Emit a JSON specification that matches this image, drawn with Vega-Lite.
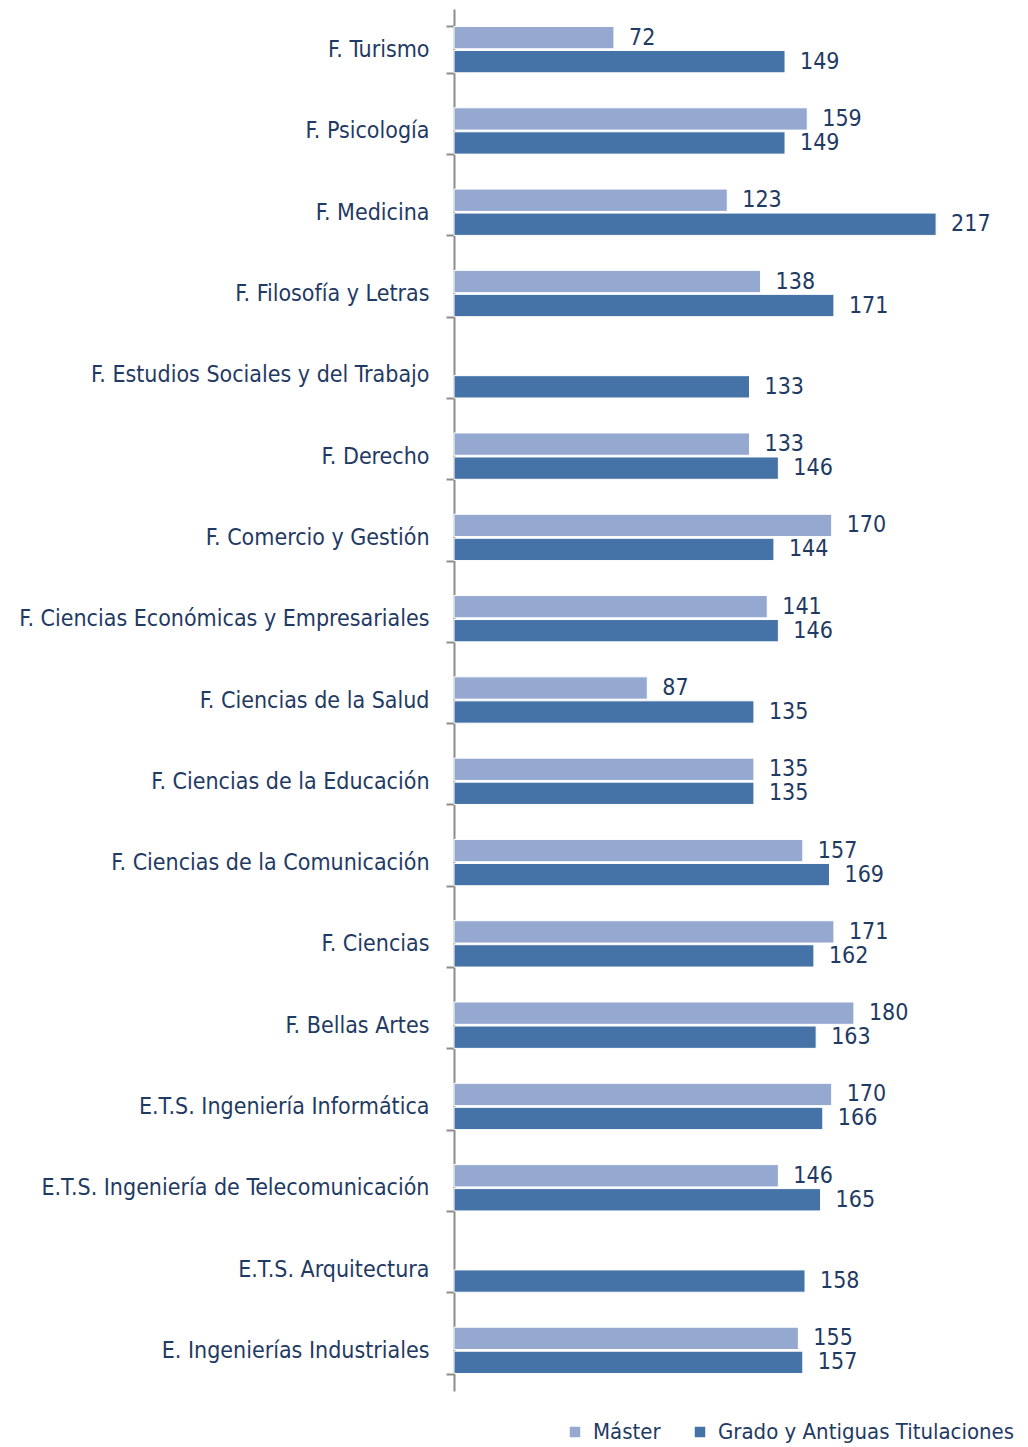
{
  "$schema": "https://vega.github.io/schema/vega-lite/v6.json",
  "autosize": "none",
  "width": 511,
  "height": 1382,
  "padding": {"left": 454, "top": 9, "right": 63, "bottom": 56},
  "background": "white",
  "config": {
    "view": {"stroke": null},
    "font": "DejaVu Sans Condensed"
  },
  "data": {
    "values": [
      {"centro": "F. Turismo", "serie": "Máster", "valor": 72},
      {"centro": "F. Turismo", "serie": "Grado y Antiguas Titulaciones", "valor": 149},
      {"centro": "F. Psicología", "serie": "Máster", "valor": 159},
      {"centro": "F. Psicología", "serie": "Grado y Antiguas Titulaciones", "valor": 149},
      {"centro": "F. Medicina", "serie": "Máster", "valor": 123},
      {"centro": "F. Medicina", "serie": "Grado y Antiguas Titulaciones", "valor": 217},
      {"centro": "F. Filosofía y Letras", "serie": "Máster", "valor": 138},
      {"centro": "F. Filosofía y Letras", "serie": "Grado y Antiguas Titulaciones", "valor": 171},
      {"centro": "F. Estudios Sociales y del Trabajo", "serie": "Grado y Antiguas Titulaciones", "valor": 133},
      {"centro": "F. Derecho", "serie": "Máster", "valor": 133},
      {"centro": "F. Derecho", "serie": "Grado y Antiguas Titulaciones", "valor": 146},
      {"centro": "F. Comercio y Gestión", "serie": "Máster", "valor": 170},
      {"centro": "F. Comercio y Gestión", "serie": "Grado y Antiguas Titulaciones", "valor": 144},
      {"centro": "F. Ciencias Económicas y Empresariales", "serie": "Máster", "valor": 141},
      {"centro": "F. Ciencias Económicas y Empresariales", "serie": "Grado y Antiguas Titulaciones", "valor": 146},
      {"centro": "F. Ciencias de la Salud", "serie": "Máster", "valor": 87},
      {"centro": "F. Ciencias de la Salud", "serie": "Grado y Antiguas Titulaciones", "valor": 135},
      {"centro": "F. Ciencias de la Educación", "serie": "Máster", "valor": 135},
      {"centro": "F. Ciencias de la Educación", "serie": "Grado y Antiguas Titulaciones", "valor": 135},
      {"centro": "F. Ciencias de la Comunicación", "serie": "Máster", "valor": 157},
      {"centro": "F. Ciencias de la Comunicación", "serie": "Grado y Antiguas Titulaciones", "valor": 169},
      {"centro": "F. Ciencias", "serie": "Máster", "valor": 171},
      {"centro": "F. Ciencias", "serie": "Grado y Antiguas Titulaciones", "valor": 162},
      {"centro": "F. Bellas Artes", "serie": "Máster", "valor": 180},
      {"centro": "F. Bellas Artes", "serie": "Grado y Antiguas Titulaciones", "valor": 163},
      {"centro": "E.T.S. Ingeniería Informática", "serie": "Máster", "valor": 170},
      {"centro": "E.T.S. Ingeniería Informática", "serie": "Grado y Antiguas Titulaciones", "valor": 166},
      {"centro": "E.T.S. Ingeniería de Telecomunicación", "serie": "Máster", "valor": 146},
      {"centro": "E.T.S. Ingeniería de Telecomunicación", "serie": "Grado y Antiguas Titulaciones", "valor": 165},
      {"centro": "E.T.S. Arquitectura", "serie": "Grado y Antiguas Titulaciones", "valor": 158},
      {"centro": "E. Ingenierías Industriales", "serie": "Máster", "valor": 155},
      {"centro": "E. Ingenierías Industriales", "serie": "Grado y Antiguas Titulaciones", "valor": 157}
    ]
  },
  "encoding": {
    "y": {
      "field": "centro",
      "type": "nominal",
      "sort": null,
      "title": null,
      "scale": {"paddingInner": 0.43, "paddingOuter": 0.215},
      "axis": {
        "domain": true,
        "domainColor": "#8c8c8c",
        "domainWidth": 2,
        "ticks": true,
        "tickBand": "extent",
        "tickColor": "#8c8c8c",
        "tickWidth": 2,
        "tickSize": 8,
        "labelPadding": 17,
        "labelFont": "DejaVu Sans Condensed",
        "labelFontSize": 23,
        "labelColor": "#1f3a63",
        "labelLimit": 600,
        "grid": false
      }
    },
    "yOffset": {
      "field": "serie",
      "type": "nominal",
      "sort": ["Máster", "Grado y Antiguas Titulaciones"],
      "scale": {"domain": ["Máster", "Grado y Antiguas Titulaciones"], "paddingInner": 0.07}
    },
    "x": {
      "field": "valor",
      "type": "quantitative",
      "scale": {"domain": [0, 230], "nice": false},
      "axis": null
    }
  },
  "layer": [
    {
      "mark": {"type": "bar", "stroke": "white", "strokeWidth": 1},
      "encoding": {
        "color": {
          "field": "serie",
          "type": "nominal",
          "scale": {"domain": ["Máster", "Grado y Antiguas Titulaciones"], "range": ["#95a9d0", "#4572a7"]},
          "legend": {
            "orient": "none",
            "direction": "horizontal",
            "legendX": 110,
            "legendY": 1412,
            "title": null,
            "symbolType": "square",
            "symbolSize": 110,
            "symbolStrokeWidth": 0,
            "labelFont": "DejaVu Sans Condensed",
            "labelFontSize": 22,
            "labelColor": "#1f3a63",
            "labelOffset": 7,
            "columnPadding": 28,
            "labelLimit": 400
          }
        }
      }
    },
    {
      "mark": {"type": "text", "align": "left", "baseline": "middle", "dx": 15, "font": "DejaVu Sans Condensed", "fontSize": 23, "color": "#1f3a63"},
      "encoding": {
        "text": {"field": "valor", "type": "quantitative"}
      }
    }
  ]
}
